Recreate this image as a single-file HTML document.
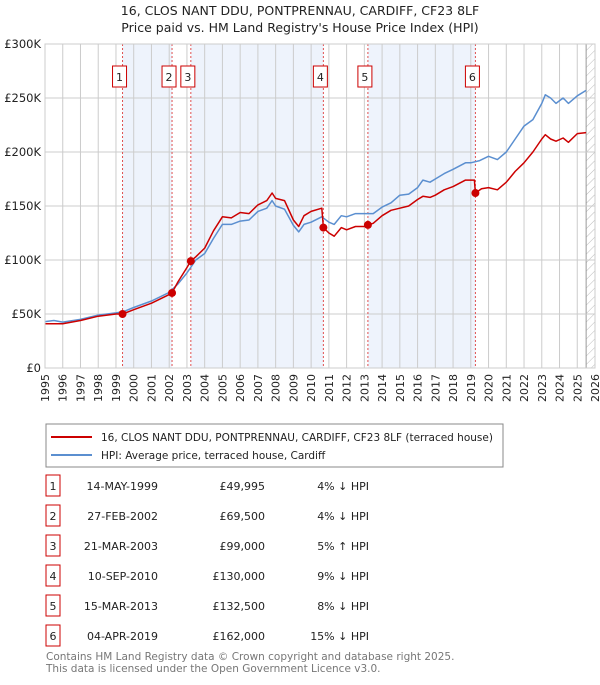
<!DOCTYPE html>
<html><head><meta charset="utf-8"><style>
body{margin:0;background:#fff;font-family:"Liberation Sans","DejaVu Sans",sans-serif;}
svg text{font-family:"DejaVu Sans","Liberation Sans",sans-serif;}
</style></head><body>
<svg id="c" width="600" height="680" viewBox="0 0 600 680" xmlns="http://www.w3.org/2000/svg">
<text x="300" y="15" text-anchor="middle" font-size="12.5" fill="#222">16, CLOS NANT DDU, PONTPRENNAU, CARDIFF, CF23 8LF</text>
<text x="300" y="32" text-anchor="middle" font-size="12.5" fill="#222">Price paid vs. HM Land Registry's House Price Index (HPI)</text>
<g id="plot"></g>
<g>
<rect x="46" y="424" width="457" height="43" fill="#fff" stroke="#888"/>
<line x1="51" y1="437" x2="92" y2="437" stroke="#cc0000" stroke-width="2"/>
<text x="101" y="441" font-size="10.5" fill="#222">16, CLOS NANT DDU, PONTPRENNAU, CARDIFF, CF23 8LF (terraced house)</text>
<line x1="51" y1="455" x2="92" y2="455" stroke="#5b8fd0" stroke-width="2"/>
<text x="101" y="459" font-size="10.5" fill="#222">HPI: Average price, terraced house, Cardiff</text>
</g>
<g id="table" font-size="11" fill="#222"></g>
<text x="46" y="660" font-size="10.5" fill="#777">Contains HM Land Registry data © Crown copyright and database right 2025.</text>
<text x="46" y="672" font-size="10.5" fill="#777">This data is licensed under the Open Government Licence v3.0.</text>
</svg>
<script>
const hpiX=[1995,1995.5,1996,1997,1998,1999,1999.4,2000,2001,2002,2002.5,2003,2003.5,2004,2004.5,2005,2005.5,2006,2006.5,2007,2007.5,2007.8,2008,2008.5,2009,2009.3,2009.6,2010,2010.6,2011,2011.3,2011.7,2012,2012.5,2013,2013.5,2014,2014.5,2015,2015.5,2016,2016.3,2016.7,2017,2017.5,2018,2018.7,2019,2019.5,2020,2020.5,2021,2021.5,2022,2022.5,2023,2023.2,2023.5,2023.8,2024.2,2024.5,2025,2025.5];
const hpiY=[43,44,42.5,45,49,51,52,56,62,70,78,88,100,106,120,133,133,136,137,145,148,155,150,147,132,126,133,135,140,135,133,141,140,143,143,143,149,153,160,161,167,174,172,175,180,184,190,190,192,196,193,200,212,224,230,245,253,250,245,250,245,252,257];
const redX=[1995,1996,1997,1998,1999,1999.37,2000,2001,2002,2002.16,2002.5,2003,2003.22,2003.5,2004,2004.5,2005,2005.5,2006,2006.5,2007,2007.5,2007.8,2008,2008.5,2009,2009.3,2009.6,2010,2010.6,2010.69,2011,2011.3,2011.7,2012,2012.5,2013,2013.2,2013.5,2014,2014.5,2015,2015.5,2016,2016.3,2016.7,2017,2017.5,2018,2018.7,2019.2,2019.26,2019.6,2020,2020.5,2021,2021.5,2022,2022.5,2023,2023.2,2023.5,2023.8,2024.2,2024.5,2025,2025.5];
const redY=[41,41,44,48,50,50,54,60,68,69.5,80,93,99,103,111,127,140,139,144,143,151,155,162,157,155,137,131,141,145,148,130,125,122,130,128,131,131,132.5,134,141,146,148,150,156,159,158,160,165,168,174,174,162,166,167,165,172,182,190,200,212,216,212,210,213,209,217,218];
const saleLabels=["1","2","3","4","5","6"];
const saleX=[1999.37,2002.16,2003.22,2010.69,2013.2,2019.26];
const saleY=[49.995,69.5,99,130,132.5,162];
const saleDates=["14-MAY-1999","27-FEB-2002","21-MAR-2003","10-SEP-2010","15-MAR-2013","04-APR-2019"];
const salePrices=["£49,995","£69,500","£99,000","£130,000","£132,500","£162,000"];
const saleHpi=["4% ↓ HPI","4% ↓ HPI","5% ↑ HPI","9% ↓ HPI","8% ↓ HPI","15% ↓ HPI"];
const yTicks=[0,50,100,150,200,250,300];
const yTickLabels=["£0","£50K","£100K","£150K","£200K","£250K","£300K"];
const xTicks=[1995,1996,1997,1998,1999,2000,2001,2002,2003,2004,2005,2006,2007,2008,2009,2010,2011,2012,2013,2014,2015,2016,2017,2018,2019,2020,2021,2022,2023,2024,2025,2026];

const L=45,R=595,T=44,B=368;
const sx=v=>L+(v-1995)/(2026-1995)*(R-L);
const sy=v=>B-v/300*(B-T);
const NS="http://www.w3.org/2000/svg";
const plot=document.getElementById('plot');
function mk(tag,attrs,parent){const e=document.createElementNS(NS,tag);for(const k in attrs)e.setAttribute(k,attrs[k]);(parent||plot).appendChild(e);return e;}
for(let i=0;i<6;i+=2){
 const r=mk('rect',{x:sx(saleX[i]),y:T,width:sx(saleX[i+1])-sx(saleX[i]),height:B-T,fill:'#eef3fc'});
 
 
}
const defs=mk('defs',{});
const pat=mk('pattern',{id:'h',width:6,height:6,patternUnits:'userSpaceOnUse',patternTransform:'rotate(45)'},defs);
mk('line',{x1:0,y1:0,x2:0,y2:6,stroke:'#bbb','stroke-width':1},pat);
const hr=mk('rect',{x:sx(2025.5),y:T,width:R-sx(2025.5),height:B-T,fill:'url(#h)'});


mk('line',{x1:sx(2025.5),y1:T,x2:sx(2025.5),y2:B,stroke:'#999','stroke-width':1});
xTicks.forEach(t=>{
 const g=mk('line',{x1:sx(t),y1:T,x2:sx(t),y2:B,stroke:'#ccc','stroke-width':1});
 
 
 const tx=mk('text',{x:0,y:0,'font-size':11,fill:'#222','text-anchor':'end',transform:`translate(${sx(t)+4},${B+6}) rotate(-90)`});
 tx.textContent=t;
 
 
});
yTicks.forEach((t,i)=>{
 const g=mk('line',{x1:L,y1:sy(t),x2:R,y2:sy(t),stroke:'#ccc','stroke-width':1});
 
 
 const tx=mk('text',{x:L-4,y:sy(t)+4,'font-size':11.5,fill:'#222','text-anchor':'end'});
 tx.textContent=yTickLabels[i];
 
 
});
saleX.forEach((v,i)=>{
 const l=mk('line',{x1:sx(v),y1:T,x2:sx(v),y2:B,stroke:'#e05050','stroke-width':1,'stroke-dasharray':'2,2'});
 
 
 const bx=mk('rect',{x:sx(v)-10,y:66,width:14,height:21,fill:'#fff',stroke:'#cc0000'});
 
 
 const t=mk('text',{x:sx(v)-3,y:81,'font-size':11,fill:'#222','text-anchor':'middle'});
 t.textContent=saleLabels[i];
 
 
});
function path(xs,ys,col,name){
 const d=xs.map((x,i)=>(i?'L':'M')+sx(x).toFixed(1)+','+sy(ys[i]).toFixed(1)).join('');
 const p=mk('path',{d:d,fill:'none',stroke:col,'stroke-width':1.5,'stroke-linejoin':'round'});
 
 
}
path(hpiX,hpiY,'#5b8fd0','hpi-line');
path(redX,redY,'#cc0000','property-line');
saleX.forEach((v,i)=>{
 const c=mk('circle',{cx:sx(v),cy:sy(saleY[i]),r:4,fill:'#cc0000'});
 
 
});
mk('rect',{x:L,y:T,width:R-L,height:B-T,fill:'none',stroke:'#ccc'});
const tb=document.getElementById('table');
saleLabels.forEach((s,i)=>{
 const y=484+i*30;
 const b=mk('rect',{x:46,y:y-9,width:14,height:21,fill:'#fff',stroke:'#cc0000'},tb);
 
 
 const cells=[[53,'middle',s,'table-index'],[158,'end',saleDates[i],'table-date'],[265,'end',salePrices[i],'table-price'],[369,'end',saleHpi[i],'table-hpi-diff']];
 cells.forEach(c=>{
  const t=mk('text',{x:c[0],y:y+6,'text-anchor':c[1],'font-size':11,fill:'#222'},tb);
  t.textContent=c[2];
  
  
 });
});
</script>
</body></html>
